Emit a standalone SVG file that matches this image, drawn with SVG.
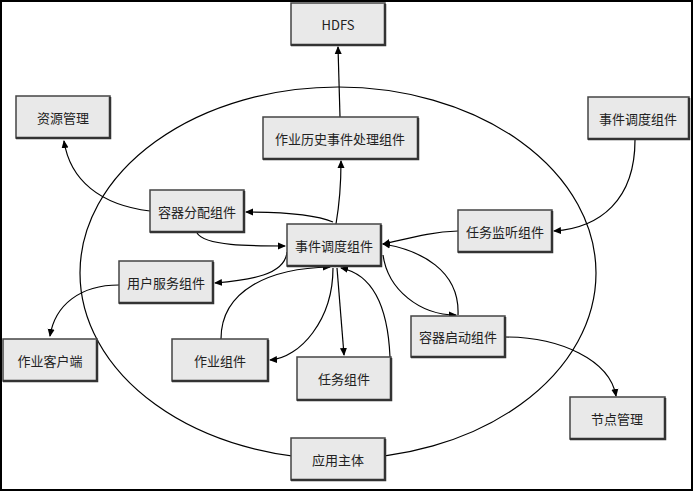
<svg xmlns="http://www.w3.org/2000/svg" width="695" height="493" viewBox="0 0 695 493">
<defs>
<marker id="a" markerWidth="8" markerHeight="8" refX="7" refY="4" orient="auto" markerUnits="userSpaceOnUse"><path d="M0,0.5 L8,4 L0,7.5 z" fill="#000"/></marker>
</defs>
<style>
.n rect{fill:#e9e9e9;stroke:#444;stroke-width:1.5}
.n .s{fill:none;stroke:#333;stroke-width:2.5}
.n text{font-family:"Noto Sans CJK SC","Liberation Serif",serif;font-size:13px;fill:#222;text-anchor:middle;dominant-baseline:central}
.c path{fill:none;stroke:#000;stroke-width:1.2;marker-end:url(#a)}
</style>
<rect x="0" y="0" width="695" height="493" fill="#fff"/>
<rect x="1" y="1" width="691" height="489" fill="none" stroke="#000" stroke-width="2"/>
<ellipse cx="338" cy="273" rx="258" ry="186" fill="none" stroke="#000" stroke-width="1.2"/>
<g class="c">
<path d="M340,117 L338,47"/>
<path d="M336,224 Q341,195 341,161"/>
<path d="M333,222 Q310,212 246,212"/>
<path d="M150,211 C100,205 70,180 64,141"/>
<path d="M197,233 C205,246 250,246 285,246"/>
<path d="M287,252 C285,275 250,280 215,283"/>
<path d="M119,285 C80,285 55,305 50,336"/>
<path d="M221,339 C221,290 270,268 330,267"/>
<path d="M333,268 C333,320 300,358 270,360"/>
<path d="M337,268 L344,355"/>
<path d="M390,357 C388,310 375,275 341,268"/>
<path d="M458,231 C430,232 410,238 383,244"/>
<path d="M635,140 C635,200 600,228 554,231"/>
<path d="M383,255 C388,290 420,315 456,315"/>
<path d="M458,315 C460,270 420,250 383,244"/>
<path d="M505,337 C560,337 610,360 616,396"/>
</g>
<g id="hdfs" class="n"><rect x="291" y="3" width="94" height="42"/><path class="s" d="M385,4 V45 H291"/><text x="338" y="24" font-size="11">HDFS</text></g>
<g id="zygl" class="n"><rect x="16" y="96" width="94" height="42"/><path class="s" d="M110,97 V138 H16"/><text x="63" y="117">资源管理</text></g>
<g id="lszj" class="n"><rect x="263" y="117" width="155" height="42"/><path class="s" d="M418,118 V159 H263"/><text x="340" y="138">作业历史事件处理组件</text></g>
<g id="ddzj2" class="n"><rect x="588" y="97" width="101" height="42"/><path class="s" d="M689,98 V139 H588"/><text x="638" y="118">事件调度组件</text></g>
<g id="fpzj" class="n"><rect x="150" y="190" width="94" height="42"/><path class="s" d="M244,191 V232 H150"/><text x="197" y="211">容器分配组件</text></g>
<g id="ddzj" class="n"><rect x="287" y="224" width="94" height="42"/><path class="s" d="M381,225 V266 H287"/><text x="334" y="245">事件调度组件</text></g>
<g id="jtzj" class="n"><rect x="458" y="210" width="94" height="42"/><path class="s" d="M552,211 V252 H458"/><text x="505" y="231">任务监听组件</text></g>
<g id="yhzj" class="n"><rect x="119" y="261" width="94" height="42"/><path class="s" d="M213,262 V303 H119"/><text x="166" y="282">用户服务组件</text></g>
<g id="khd" class="n"><rect x="3" y="339" width="94" height="42"/><path class="s" d="M97,340 V381 H3"/><text x="50" y="360">作业客户端</text></g>
<g id="zyzj" class="n"><rect x="172" y="339" width="96" height="42"/><path class="s" d="M268,340 V381 H172"/><text x="220" y="360">作业组件</text></g>
<g id="rwzj" class="n"><rect x="297" y="357" width="94" height="43"/><path class="s" d="M391,358 V400 H297"/><text x="344" y="378">任务组件</text></g>
<g id="qdzj" class="n"><rect x="411" y="316" width="94" height="41"/><path class="s" d="M505,317 V357 H411"/><text x="458" y="336">容器启动组件</text></g>
<g id="jdgl" class="n"><rect x="570" y="397" width="95" height="42"/><path class="s" d="M665,398 V439 H570"/><text x="617" y="418">节点管理</text></g>
<g id="yyzt" class="n"><rect x="291" y="438" width="94" height="42"/><path class="s" d="M385,439 V480 H291"/><text x="338" y="459">应用主体</text></g>
</svg>
